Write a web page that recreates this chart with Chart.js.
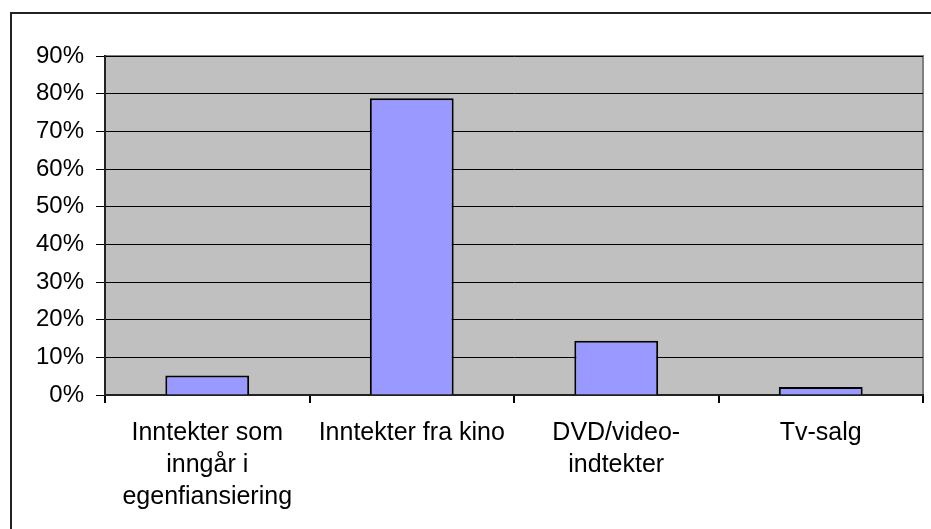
<!DOCTYPE html>
<html lang="no">
<head>
<meta charset="UTF-8">
<title>Inntekter</title>
<script src="https://cdn.jsdelivr.net/npm/chart.js"></script>
<style>
  body { margin: 0; background: #fff; }
  .ramme { position: absolute; left: 10px; top: 12px; width: 940px; height: 540px;
           border-left: 2px solid #222; border-top: 2px solid #222; }
  .wrap { position: absolute; left: 0; top: 0; width: 931px; height: 529px; }
</style>
</head>
<body>
<div class="ramme"></div>
<div class="wrap"><canvas id="chart" width="931" height="529"></canvas></div>
<script>
var kategorier = [
  ['Inntekter som', 'inngår i', 'egenfiansiering'],
  'Inntekter fra kino',
  ['DVD/video-', 'indtekter'],
  'Tv-salg'
];
var andeler = [5.2, 78.8, 14.4, 2.1];
var yTicks = [0, 10, 20, 30, 40, 50, 60, 70, 80, 90];

// grå bakgrunn og ramme rundt plottet
var plotBakgrunn = {
  id: 'plotBakgrunn',
  beforeDraw: function (chart) {
    var a = chart.chartArea, ctx = chart.ctx;
    ctx.save();
    ctx.fillStyle = '#C0C0C0';
    ctx.fillRect(a.left, a.top, a.right - a.left, a.bottom - a.top);
    ctx.strokeStyle = '#808080';
    ctx.lineWidth = 2;
    ctx.strokeRect(a.left, a.top, a.right - a.left, a.bottom - a.top);
    ctx.restore();
  }
};

new Chart(document.getElementById('chart'), {
  type: 'bar',
  data: {
    labels: kategorier,
    datasets: [{
      data: andeler,
      backgroundColor: '#9999FF',
      borderColor: '#000',
      borderWidth: 2,
      categoryPercentage: 0.41,
      barPercentage: 1
    }]
  },
  options: {
    responsive: false,
    animation: false,
    layout: { padding: { top: 56, right: 8, left: 0, bottom: 0 } },
    plugins: { legend: { display: false }, tooltip: { enabled: false } },
    scales: {
      x: {
        grid: { display: true, offset: true, drawOnChartArea: false, color: '#000', tickLength: 8, lineWidth: 2 },
        border: { color: '#222', width: 2 },
        ticks: {
          color: '#000', maxRotation: 0, autoSkip: false, padding: 14,
          font: { family: 'Liberation Sans, Arial, sans-serif', size: 25, lineHeight: 1.28 }
        },
        afterFit: function (s) { s.height = 134; }
      },
      y: {
        min: 0, max: 90,
        afterBuildTicks: function (s) { s.ticks = yTicks.map(function (v) { return { value: v }; }); },
        grid: { color: '#000', tickLength: 9, lineWidth: 1 },
        border: { color: '#222', width: 2 },
        ticks: {
          color: '#000', padding: 12,
          font: { family: 'Liberation Sans, Arial, sans-serif', size: 24 },
          callback: function (v) { return v + '%'; }
        },
        afterFit: function (s) { s.width = 105; }
      }
    }
  },
  plugins: [plotBakgrunn]
});
</script>
</body>
</html>
